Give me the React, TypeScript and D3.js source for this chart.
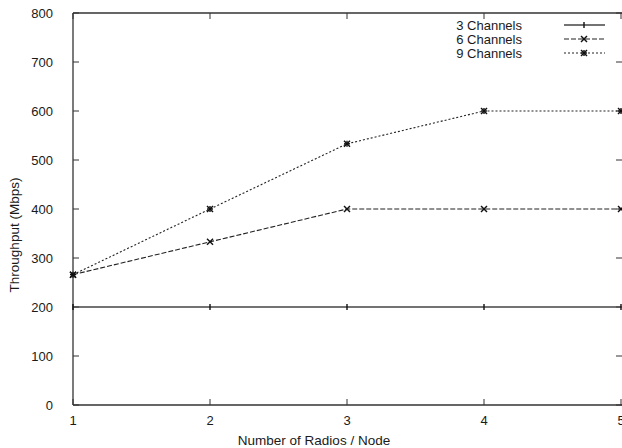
import React, { useEffect, useRef } from "react";
import * as d3 from "d3";

const xValues = [1, 2, 3, 4, 5];
const ch3 = [200, 200, 200, 200, 200];
const ch6 = [266, 333, 400, 400, 400];
const ch9 = [266, 400, 533, 600, 600];
const yTicks = [0, 100, 200, 300, 400, 500, 600, 700, 800];
const xTicks = [1, 2, 3, 4, 5];
const seriesNames = ["3 Channels", "6 Channels", "9 Channels"];

const W = 622, H = 448;

export default function App() {
  const ref = useRef<SVGSVGElement>(null);
  useEffect(() => {
    const svg = d3.select(ref.current);
    svg.selectAll("*").remove();
    const x = d3.scaleLinear().domain([1, 5]).range([73, 621]);
    const y = d3.scaleLinear().domain([0, 800]).range([405, 13]);
    const axisColor = "#333";
    const textColor = "#1a1a1a";
    const font = "Liberation Sans, Arial, sans-serif";
    const g = svg.append("g");

    // frame
    g.append("line").attr("x1", x(1)).attr("x2", x(1)).attr("y1", y(0)).attr("y2", y(800)).attr("stroke", axisColor).attr("stroke-width", 1.3);
    g.append("line").attr("x1", x(1)).attr("x2", 640).attr("y1", y(0)).attr("y2", y(0)).attr("stroke", axisColor).attr("stroke-width", 1.3);
    g.append("line").attr("x1", x(1)).attr("x2", 640).attr("y1", y(800)).attr("y2", y(800)).attr("stroke", axisColor).attr("stroke-width", 1.3);

    // y ticks
    yTicks.forEach((v) => {
      g.append("line").attr("x1", x(1)).attr("x2", x(1) + 6).attr("y1", y(v)).attr("y2", y(v)).attr("stroke", axisColor);
      g.append("line").attr("x1", x(5) - 5).attr("x2", x(5) + 2).attr("y1", y(v)).attr("y2", y(v)).attr("stroke", axisColor);
      g.append("text").attr("x", 53).attr("y", y(v)).attr("dy", "0.36em").attr("text-anchor", "end")
        .attr("font-family", font).attr("font-size", 13).attr("fill", textColor).text(String(v));
    });
    // x ticks
    xTicks.forEach((v) => {
      g.append("line").attr("x1", x(v)).attr("x2", x(v)).attr("y1", y(0)).attr("y2", y(0) - 6).attr("stroke", axisColor);
      g.append("line").attr("x1", x(v)).attr("x2", x(v)).attr("y1", y(800)).attr("y2", y(800) + 6).attr("stroke", axisColor);
      g.append("text").attr("x", x(v)).attr("y", 425).attr("text-anchor", "middle")
        .attr("font-family", font).attr("font-size", 13).attr("fill", textColor).text(String(v));
    });

    // axis labels
    g.append("text").attr("x", 314).attr("y", 445).attr("text-anchor", "middle")
      .attr("font-family", font).attr("font-size", 13.5).attr("fill", textColor).text("Number of Radios / Node");
    g.append("text").attr("transform", `translate(19,235) rotate(-90)`).attr("text-anchor", "middle")
      .attr("font-family", font).attr("font-size", 13.5).attr("fill", textColor).text("Throughput (Mbps)");

    const line = d3.line<[number, number]>().x((d) => x(d[0])).y((d) => y(d[1]));
    const series = [
      { vals: ch3, dash: null as string | null, marker: "plus", width: 1.5, color: "#444" },
      { vals: ch6, dash: "5,2", marker: "cross", width: 1.1, color: "#222" },
      { vals: ch9, dash: "2,2", marker: "star", width: 1.1, color: "#222" },
    ];

    const drawMarker = (cx: number, cy: number, type: string) => {
      const s = 3;
      const mg = g.append("g").attr("stroke", "#111").attr("stroke-width", 1.4);
      if (type === "plus" || type === "star") {
        const sx = type === "plus" ? 0 : s;
        if (sx) mg.append("line").attr("x1", cx - sx).attr("x2", cx + sx).attr("y1", cy).attr("y2", cy);
        mg.append("line").attr("x1", cx).attr("x2", cx).attr("y1", cy - s).attr("y2", cy + s);
      }
      if (type === "cross" || type === "star") {
        mg.append("line").attr("x1", cx - s).attr("x2", cx + s).attr("y1", cy - s).attr("y2", cy + s);
        mg.append("line").attr("x1", cx - s).attr("x2", cx + s).attr("y1", cy + s).attr("y2", cy - s);
      }
    };

    series.forEach((s) => {
      const pts = xValues.map((xv, i) => [xv, s.vals[i]] as [number, number]);
      const p = g.append("path").attr("d", line(pts)).attr("fill", "none").attr("stroke", s.color).attr("stroke-width", s.width);
      if (s.dash) p.attr("stroke-dasharray", s.dash);
      pts.forEach((d) => drawMarker(x(d[0]), y(d[1]), s.marker));
    });

    // legend
    series.forEach((s, i) => {
      const ly = 25 + i * 14;
      g.append("text").attr("x", 522).attr("y", ly).attr("dy", "0.36em").attr("text-anchor", "end")
        .attr("font-family", font).attr("font-size", 13).attr("fill", textColor).text(seriesNames[i]);
      const l = g.append("line").attr("x1", 564).attr("x2", 605).attr("y1", ly).attr("y2", ly)
        .attr("stroke", s.color).attr("stroke-width", s.dash ? 1.1 : 1.3);
      if (s.dash) l.attr("stroke-dasharray", s.dash);
      drawMarker(584, ly, s.marker);
    });
  }, []);
  return (
    <svg ref={ref} width={W} height={H} style={{ position: "absolute", left: 0, top: 0, background: "#fff" }} />
  );
}
